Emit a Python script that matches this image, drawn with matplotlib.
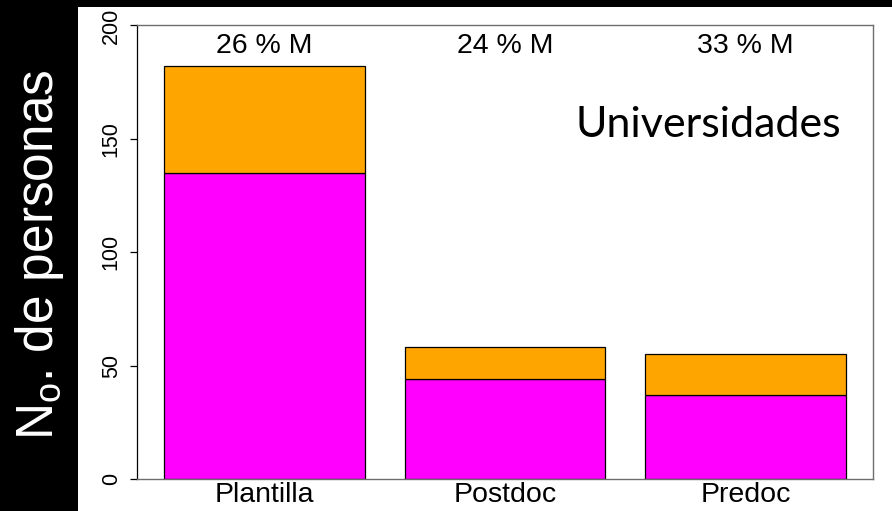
import matplotlib
matplotlib.use("Agg")
import matplotlib.pyplot as plt
from matplotlib.patches import Rectangle

categories = ["Plantilla", "Postdoc", "Predoc"]
hombres = [135, 44, 37]
mujeres = [47, 14, 18]
yticks = [0, 50, 100, 150, 200]
titulo = "Universidades"
ylabel = r"N$_\mathrm{o}$. de personas"

plt.rcParams["mathtext.fontset"] = "custom"
plt.rcParams["mathtext.rm"] = "Liberation Sans"
plt.rcParams["mathtext.it"] = "Liberation Sans"
plt.rcParams["mathtext.bf"] = "Liberation Sans"

W, H = 892, 511
fig = plt.figure(figsize=(W / 100, H / 100), dpi=100, facecolor="black")
bg = Rectangle((78 / W, 0), 1 - 78 / W, 1 - 7 / H, transform=fig.transFigure,
               facecolor="white", edgecolor="none", zorder=-10)
fig.patches.append(bg)

ax = fig.add_axes([137 / W, 1 - 479 / H, (873 - 137) / W, (479 - 25.5) / H])
ax.set_zorder(1)
ax.set_facecolor("white")

centers = [0.7 + 1.2 * i for i in range(len(categories))]
ax.bar(centers, hombres, width=1.0, color="#FF00FF", edgecolor="black", linewidth=0.9)
ax.bar(centers, mujeres, width=1.0, bottom=hombres, color="#FFA500", edgecolor="black", linewidth=0.9)

for c, h, m in zip(centers, hombres, mujeres):
    pct = round(100 * m / (h + m))
    ax.text(c, 188, f"{pct} % M", ha="center", va="baseline", fontsize=20.5,
            family="Liberation Sans", color="black")

ax.text(3.575, 150.7, titulo, ha="right", va="baseline", fontsize=31, family="Lato", color="black")

ax.set_xlim(0.064, 3.736)
ax.set_ylim(0, 200)
ax.set_yticks(yticks)
ax.set_yticklabels([str(t) for t in yticks], rotation=90, va="center", fontsize=15.5,
                   family="Liberation Sans")
ax.tick_params(axis="y", length=5, width=0.9, pad=6, color="black")
ax.set_xticks(centers)
ax.set_xticklabels(categories, fontsize=20.5, family="Liberation Sans")
ax.tick_params(axis="x", length=0, pad=2)

for s in ["top", "right", "bottom"]:
    ax.spines[s].set_color("#6e6e6e")
    ax.spines[s].set_linewidth(1.0)
ax.spines["left"].set_color("black")
ax.spines["left"].set_linewidth(0.9)

fig.text(40 / W, 1 - 254.5 / H, ylabel, rotation=90, ha="center", va="center",
         fontsize=37, family="Liberation Sans", color="white")

fig.savefig("out.png", dpi=100, facecolor="black")
